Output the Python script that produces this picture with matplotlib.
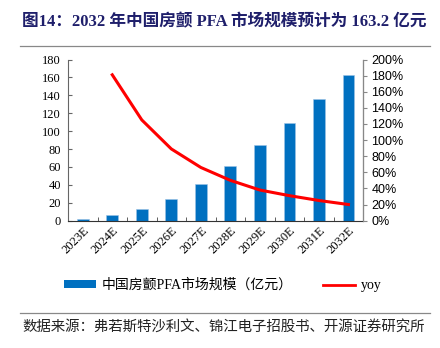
import numpy as np
import matplotlib.pyplot as plt
from matplotlib.lines import Line2D
from matplotlib.patches import Patch
from matplotlib.ticker import PercentFormatter

# Chart data
years = ['2023E', '2024E', '2025E', '2026E', '2027E',
         '2028E', '2029E', '2030E', '2031E', '2032E']
market = [2.1, 5.9, 13.0, 24.5, 40.5, 60.5, 84.0, 109.5, 136.2, 163.2]  # 亿元
yoy = [np.nan, 1.81, 1.25, 0.89, 0.66, 0.50, 0.38, 0.31, 0.25, 0.20]

serif = ['Liberation Serif', 'Noto Sans CJK SC']
sans = ['Liberation Sans', 'DejaVu Sans']
cjk = ['Noto Sans CJK SC', 'DejaVu Sans']

fig = plt.figure(figsize=(4.4, 3.48), dpi=100)
ax = fig.add_axes([0.1545, 0.366, 0.671, 0.463])
ax2 = ax.twinx()

x = np.arange(len(years))
ax.bar(x, market, width=0.4, color='#0070C0', edgecolor='#9DC3E6', linewidth=0.4, zorder=2)
ax2.plot(x, yoy, color='#FF0000', linewidth=2.2, zorder=3)

ax.set_xlim(-0.5, len(years) - 0.5)
ax.set_ylim(0, 180)
ax.set_yticks(np.arange(0, 181, 20))
ax2.set_ylim(0, 2.0)
ax2.set_yticks(np.arange(0, 2.01, 0.2))
ax2.yaxis.set_major_formatter(PercentFormatter(1.0, decimals=0))

# category ticks sit between the bars
ax.set_xticks(x)
ax.set_xticklabels(years, rotation=45, ha='right', rotation_mode='anchor',
                   family=serif, fontsize=9)
ax.set_xticks(np.arange(-0.5, len(years), 1), minor=True)
ax.tick_params(axis='x', which='major', length=0, pad=3)
ax.tick_params(axis='x', which='minor', direction='in', length=3, color='#444444')
ax.tick_params(axis='y', direction='in', length=3, color='#666666', labelsize=9, pad=5)
for lab in ax.get_yticklabels():
    lab.set_family(serif)
ax2.tick_params(axis='y', direction='out', length=3, color='#888888', labelsize=9, pad=3)
for lab in ax2.get_yticklabels():
    lab.set_family(sans)

for s in ['top']:
    ax.spines[s].set_visible(False)
    ax2.spines[s].set_visible(False)
ax.spines['left'].set_color('#666666')
ax.spines['bottom'].set_color('#333333')
ax2.spines['right'].set_color('#888888')
ax2.spines['left'].set_visible(False)
ax2.spines['bottom'].set_visible(False)

# legend
handles = [Patch(facecolor='#0070C0', edgecolor='none'),
           Line2D([0], [0], color='#FF0000', linewidth=2)]
fig.legend(handles, ['中国房颤PFA市场规模（亿元）', 'yoy'],
           loc='center', bbox_to_anchor=(0.507, 0.18), ncol=2, frameon=False,
           prop={'family': serif, 'size': 10}, handlelength=2.3, handleheight=0.55,
           columnspacing=2.2, handletextpad=0.4)

# title and source
fig.text(0.05, 0.935, '图14：2032 年中国房颤 PFA 市场规模预计为 163.2 亿元',
         family=serif, fontsize=12.0, fontweight='bold', color='#1F1F6B',
         va='center', ha='left')
fig.add_artist(Line2D([0.045, 0.978], [0.868, 0.868], color='#888888', linewidth=0.9))
fig.add_artist(Line2D([0.045, 0.978], [0.10, 0.10], color='#888888', linewidth=0.9))
fig.text(0.05, 0.06, '数据来源：弗若斯特沙利文、锦江电子招股书、开源证券研究所',
         family=cjk, fontsize=10.4, color='#222222', va='center', ha='left')

fig.savefig('out.png', dpi=100)
